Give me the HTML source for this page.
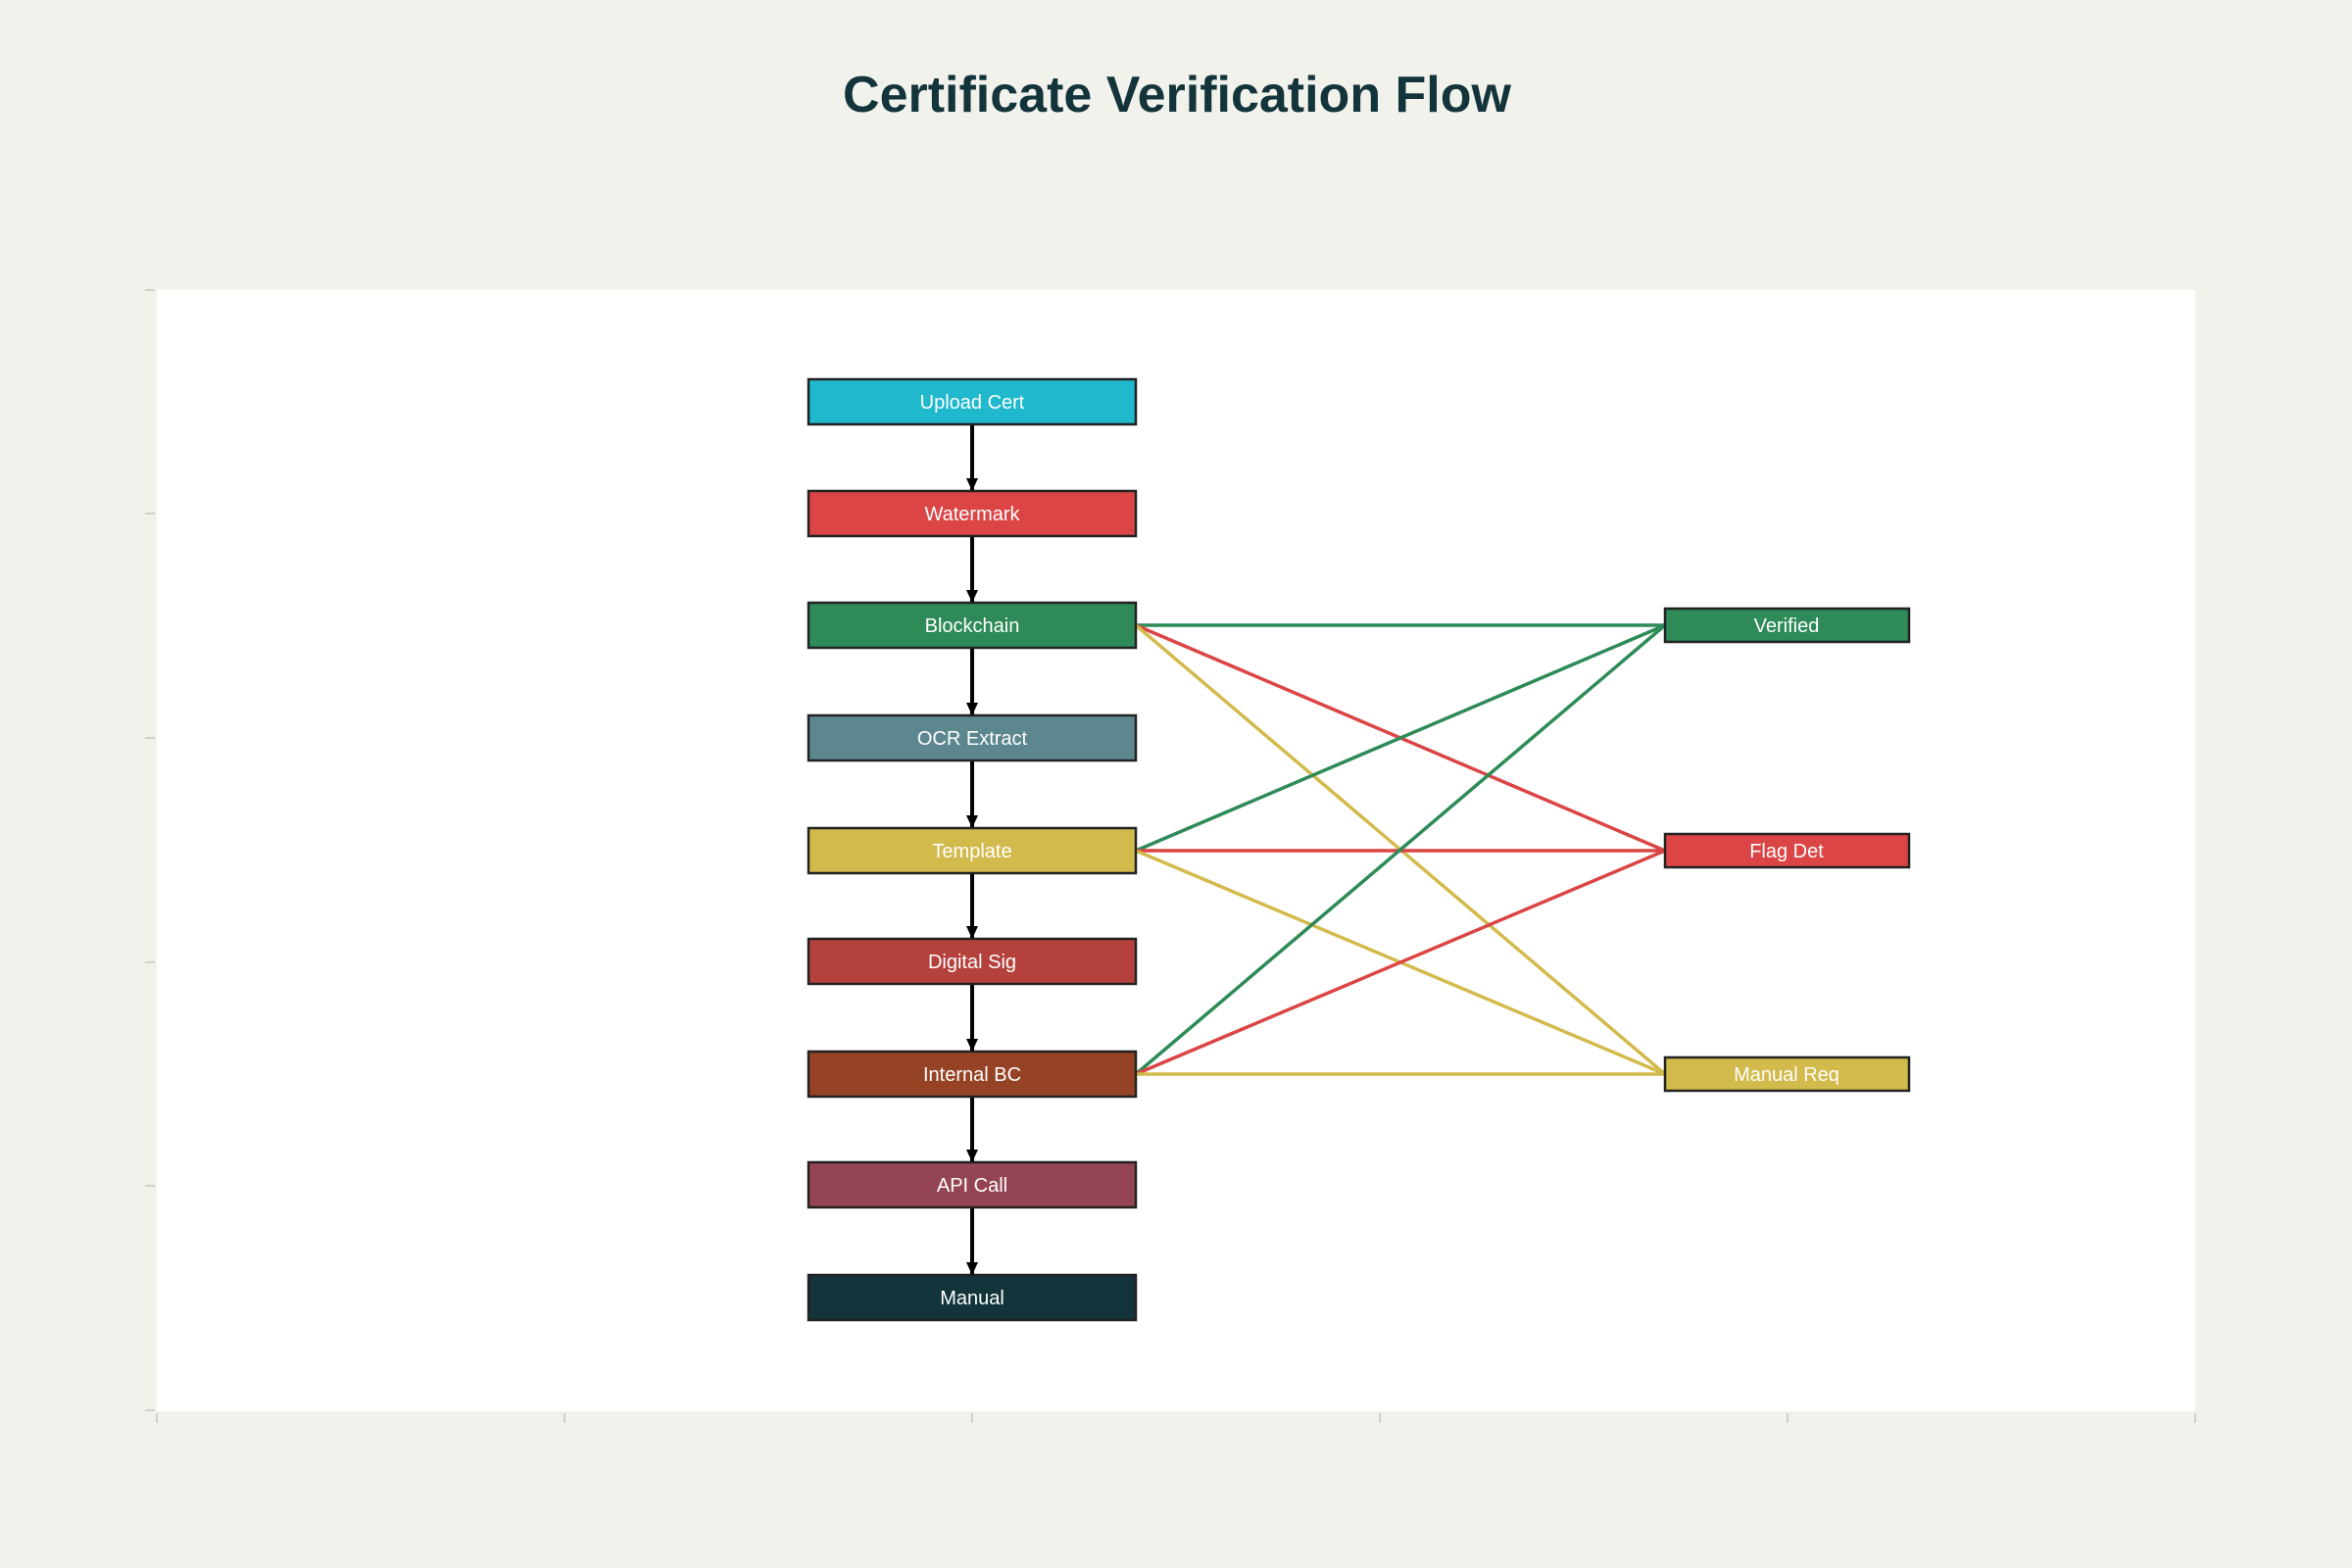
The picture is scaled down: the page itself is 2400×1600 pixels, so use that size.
<!DOCTYPE html><html><head><meta charset="utf-8"><style>body{margin:0;background:#F2F2EC}svg{display:block}</style></head><body>
<svg width="2400" height="1600" xmlns="http://www.w3.org/2000/svg" font-family="Liberation Sans, sans-serif">
<rect width="2400" height="1600" fill="#F2F2EC"/>
<text x="1201" y="114" text-anchor="middle" font-size="52" font-weight="bold" fill="#13343B">Certificate Verification Flow</text>
<rect x="160" y="296" width="2080" height="1144" fill="#fff"/>
<g stroke="#D3D0CA" stroke-width="2">
<line x1="148" y1="296" x2="158" y2="296"/><line x1="148" y1="524" x2="158" y2="524"/><line x1="148" y1="753" x2="158" y2="753"/><line x1="148" y1="982" x2="158" y2="982"/><line x1="148" y1="1210" x2="158" y2="1210"/><line x1="148" y1="1439" x2="158" y2="1439"/>
<line x1="160" y1="1442" x2="160" y2="1452"/><line x1="576" y1="1442" x2="576" y2="1452"/><line x1="992" y1="1442" x2="992" y2="1452"/><line x1="1408" y1="1442" x2="1408" y2="1452"/><line x1="1824" y1="1442" x2="1824" y2="1452"/><line x1="2240" y1="1442" x2="2240" y2="1452"/>
</g>
<g stroke-width="3.5" fill="none">
<line x1="1159" y1="638" x2="1699" y2="638" stroke="#2E8B57"/>
<line x1="1159" y1="638" x2="1699" y2="868" stroke="#DB4545"/>
<line x1="1159" y1="638" x2="1699" y2="1096" stroke="#D2BA4C"/>
<line x1="1159" y1="868" x2="1699" y2="638" stroke="#2E8B57"/>
<line x1="1159" y1="868" x2="1699" y2="868" stroke="#DB4545"/>
<line x1="1159" y1="868" x2="1699" y2="1096" stroke="#D2BA4C"/>
<line x1="1159" y1="1096" x2="1699" y2="638" stroke="#2E8B57"/>
<line x1="1159" y1="1096" x2="1699" y2="868" stroke="#DB4545"/>
<line x1="1159" y1="1096" x2="1699" y2="1096" stroke="#D2BA4C"/>
</g>
<g stroke="#000" stroke-width="4">
<line x1="992" y1="433" x2="992" y2="501"/><line x1="992" y1="547" x2="992" y2="615"/><line x1="992" y1="661" x2="992" y2="730"/><line x1="992" y1="776" x2="992" y2="845"/><line x1="992" y1="890" x2="992" y2="958"/><line x1="992" y1="1004" x2="992" y2="1073"/><line x1="992" y1="1119" x2="992" y2="1186"/><line x1="992" y1="1232" x2="992" y2="1301"/>
</g>
<g stroke="#222" stroke-width="2.5">
<rect x="825" y="387" width="334" height="46" fill="#1FB8CD"/>
<rect x="825" y="501" width="334" height="46" fill="#DB4545"/>
<rect x="825" y="615" width="334" height="46" fill="#2E8B57"/>
<rect x="825" y="730" width="334" height="46" fill="#5D878F"/>
<rect x="825" y="845" width="334" height="46" fill="#D2BA4C"/>
<rect x="825" y="958" width="334" height="46" fill="#B4413C"/>
<rect x="825" y="1073" width="334" height="46" fill="#964325"/>
<rect x="825" y="1186" width="334" height="46" fill="#944454"/>
<rect x="825" y="1301" width="334" height="46" fill="#13343B"/>
<rect x="1699" y="621" width="249" height="34" fill="#2E8B57"/>
<rect x="1699" y="851" width="249" height="34" fill="#DB4545"/>
<rect x="1699" y="1079" width="249" height="34" fill="#D2BA4C"/>
</g>
<g fill="#000">
<path d="M986 488h12l-6 13z"/><path d="M986 602h12l-6 13z"/><path d="M986 717h12l-6 13z"/><path d="M986 832h12l-6 13z"/><path d="M986 945h12l-6 13z"/><path d="M986 1060h12l-6 13z"/><path d="M986 1173h12l-6 13z"/><path d="M986 1288h12l-6 13z"/>
</g>
<g fill="#fff" font-size="20" text-anchor="middle">
<text x="992" y="417">Upload Cert</text><text x="992" y="531">Watermark</text><text x="992" y="645">Blockchain</text><text x="992" y="760">OCR Extract</text><text x="992" y="875">Template</text><text x="992" y="988">Digital Sig</text><text x="992" y="1103">Internal BC</text><text x="992" y="1216">API Call</text><text x="992" y="1331">Manual</text>
<text x="1823" y="645">Verified</text><text x="1823" y="875">Flag Det</text><text x="1823" y="1103">Manual Req</text>
</g>
</svg></body></html>
